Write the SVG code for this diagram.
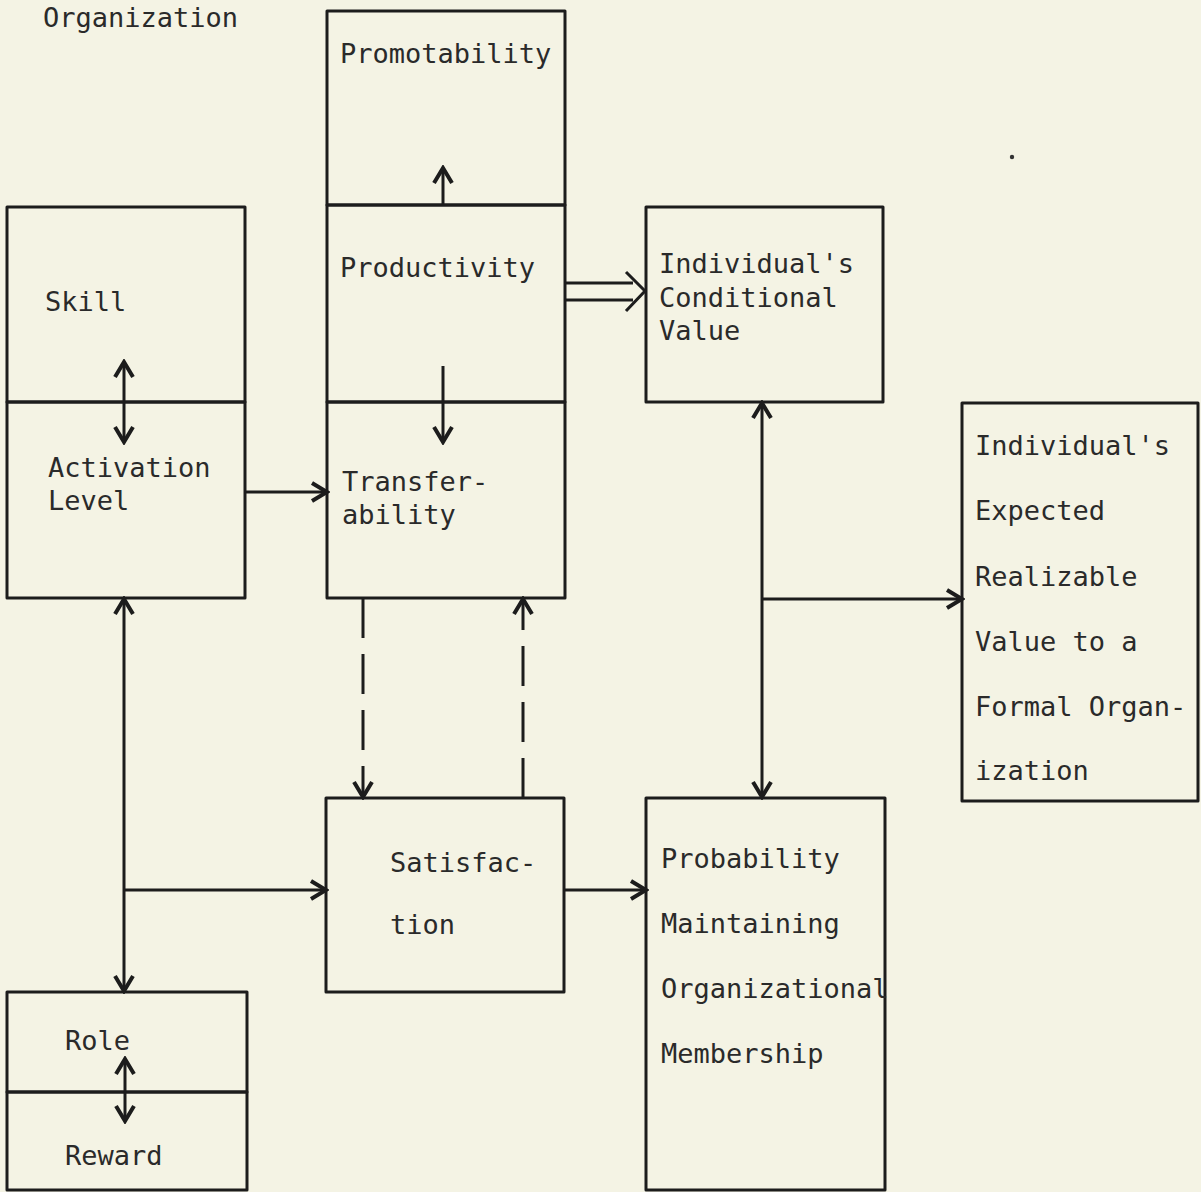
<svg xmlns="http://www.w3.org/2000/svg" width="1201" height="1192" viewBox="0 0 1201 1192">
<defs>
<style>
.bx{fill:none;stroke:#1c1c1c;stroke-width:3;stroke-linejoin:round}
.ln{fill:none;stroke:#1c1c1c;stroke-width:3}
.ds{fill:none;stroke:#1c1c1c;stroke-width:3;stroke-dasharray:40 16}
.t{font-family:"DejaVu Sans Mono","Liberation Mono",monospace;font-size:27px;fill:#2a2a2a}
</style>
<marker id="ah" viewBox="0 0 24 24" refX="21" refY="12" markerWidth="24" markerHeight="24" markerUnits="userSpaceOnUse" orient="auto-start-reverse">
<path d="M6,3 L21,12 L6,21" fill="none" stroke="#1c1c1c" stroke-width="4" stroke-linejoin="miter"/>
</marker>
</defs>
<rect width="1201" height="1192" fill="#f4f3e4"/>
<text class="t" x="43" y="27">Organization</text>
<circle cx="1012" cy="157" r="2.2" fill="#333"/>

<g id="promotability">
<rect class="bx" x="327" y="11" width="238" height="194"/>
<text class="t" x="340" y="63">Promotability</text>
</g>
<g id="productivity">
<rect class="bx" x="327" y="205" width="238" height="197"/>
<text class="t" x="340" y="277">Productivity</text>
</g>
<g id="transferability">
<rect class="bx" x="327" y="402" width="238" height="196"/>
<text class="t" x="342" y="491">Transfer-</text>
<text class="t" x="342" y="524">ability</text>
</g>
<g id="skill">
<rect class="bx" x="7" y="207" width="238" height="195"/>
<text class="t" x="45" y="311">Skill</text>
</g>
<g id="activation">
<rect class="bx" x="7" y="402" width="238" height="196"/>
<text class="t" x="48" y="477">Activation</text>
<text class="t" x="48" y="510">Level</text>
</g>
<g id="conditional">
<rect class="bx" x="646" y="207" width="237" height="195"/>
<text class="t" x="659" y="273">Individual's</text>
<text class="t" x="659" y="307">Conditional</text>
<text class="t" x="659" y="340">Value</text>
</g>
<g id="expected">
<rect class="bx" x="962" y="403" width="236" height="398"/>
<text class="t" x="975" y="455">Individual's</text>
<text class="t" x="975" y="520">Expected</text>
<text class="t" x="975" y="586">Realizable</text>
<text class="t" x="975" y="651">Value to a</text>
<text class="t" x="975" y="716">Formal Organ-</text>
<text class="t" x="975" y="780">ization</text>
</g>
<g id="satisfaction">
<rect class="bx" x="326" y="798" width="238" height="194"/>
<text class="t" x="390" y="872">Satisfac-</text>
<text class="t" x="390" y="934">tion</text>
</g>
<g id="probability">
<rect class="bx" x="646" y="798" width="239" height="392"/>
<text class="t" x="661" y="868">Probability</text>
<text class="t" x="661" y="933">Maintaining</text>
<text class="t" x="661" y="998">Organizational</text>
<text class="t" x="661" y="1063">Membership</text>
</g>
<g id="role">
<rect class="bx" x="7" y="992" width="240" height="100"/>
<text class="t" x="65" y="1050">Role</text>
</g>
<g id="reward">
<rect class="bx" x="7" y="1092" width="240" height="98"/>
<text class="t" x="65" y="1165">Reward</text>
</g>

<g id="connectors">
<line class="ln" x1="443" y1="205" x2="443" y2="168" marker-end="url(#ah)"/>
<line class="ln" x1="443" y1="366" x2="443" y2="442" marker-end="url(#ah)"/>
<line class="ln" x1="124" y1="362" x2="124" y2="442" marker-start="url(#ah)" marker-end="url(#ah)"/>
<line class="ln" x1="245" y1="492" x2="327" y2="492" marker-end="url(#ah)"/>
<path class="ln" d="M564,283 L633,283 M564,300 L633,300 M626,272 L645,291 L626,311" stroke-width="3.5"/>
<line class="ln" x1="762" y1="403" x2="762" y2="797" marker-start="url(#ah)" marker-end="url(#ah)"/>
<line class="ln" x1="762" y1="599" x2="962" y2="599" marker-end="url(#ah)"/>
<path class="ds" d="M363,598 L363,797" marker-end="url(#ah)"/>
<path class="ds" d="M523,798 L523,599" marker-end="url(#ah)"/>
<line class="ln" x1="124" y1="599" x2="124" y2="991" marker-start="url(#ah)" marker-end="url(#ah)"/>
<line class="ln" x1="124" y1="890" x2="326" y2="890" marker-end="url(#ah)"/>
<line class="ln" x1="564" y1="890" x2="646" y2="890" marker-end="url(#ah)"/>
<line class="ln" x1="125" y1="1059" x2="125" y2="1121" marker-start="url(#ah)" marker-end="url(#ah)"/>
</g>
</svg>
